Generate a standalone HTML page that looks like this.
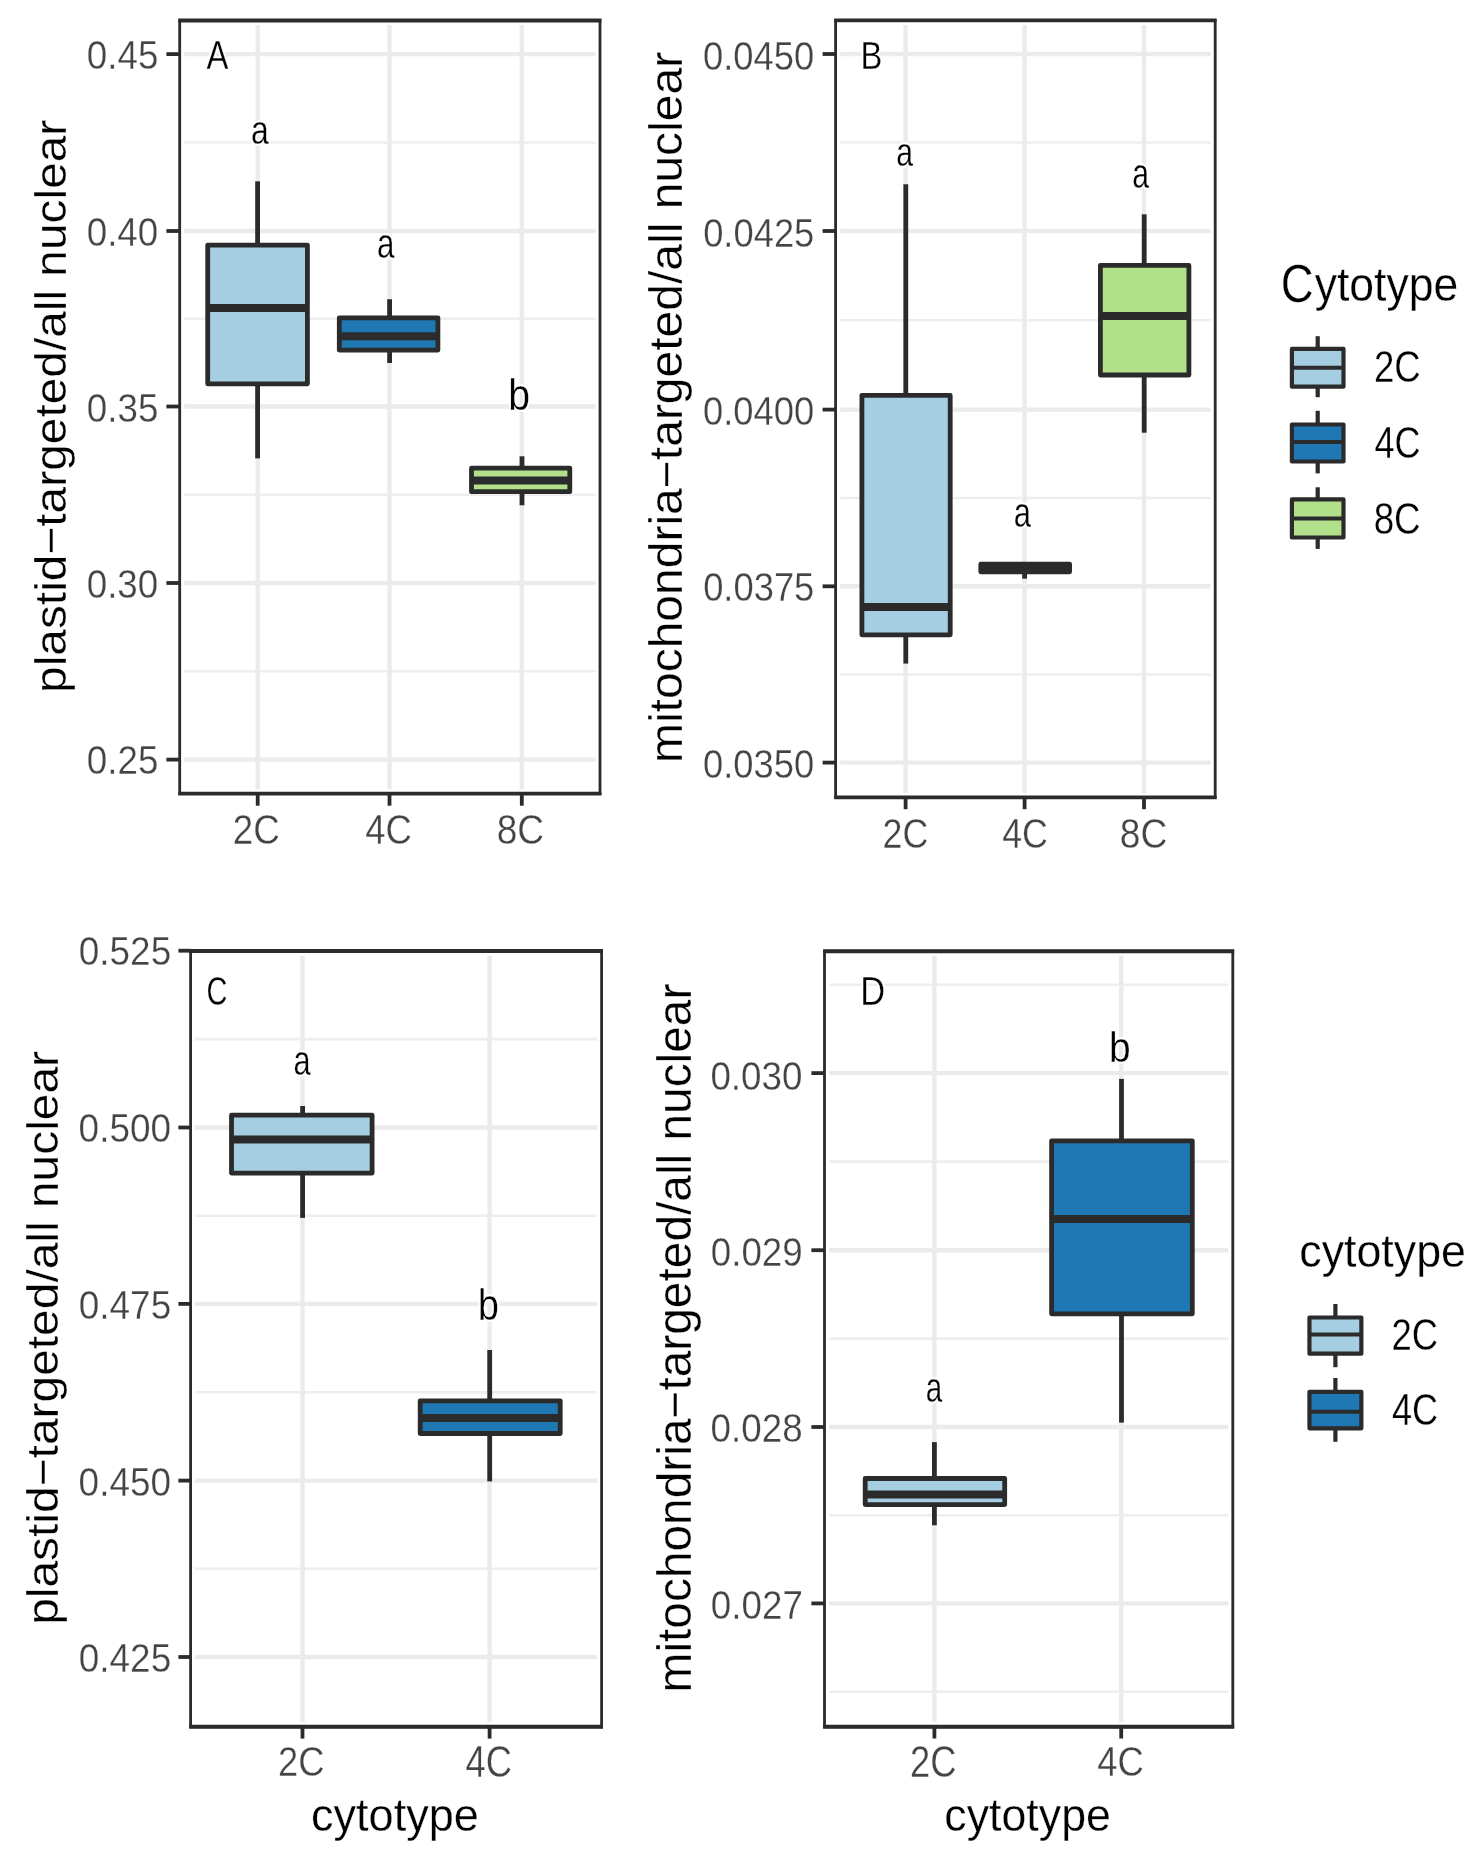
<!DOCTYPE html>
<html><head><meta charset="utf-8"><style>
html,body{margin:0;padding:0;background:#fff;}
body{width:1481px;height:1857px;overflow:hidden;}
svg{display:block;filter:blur(0.6px);}
text{font-family:"Liberation Sans",sans-serif;font-kerning:none;}
</style></head><body>
<svg width="1481" height="1857" viewBox="0 0 1481 1857">
<rect width="1481" height="1857" fill="#fff"/>
<rect x="179.7" y="20.5" width="420.3" height="773.1" fill="#fff"/>
<line x1="184.2" y1="142.55" x2="595.5" y2="142.55" stroke="#eeeeee" stroke-width="2.6"/>
<line x1="184.2" y1="318.75" x2="595.5" y2="318.75" stroke="#eeeeee" stroke-width="2.6"/>
<line x1="184.2" y1="494.75" x2="595.5" y2="494.75" stroke="#eeeeee" stroke-width="2.6"/>
<line x1="184.2" y1="671.3" x2="595.5" y2="671.3" stroke="#eeeeee" stroke-width="2.6"/>
<line x1="184.2" y1="54.1" x2="595.5" y2="54.1" stroke="#ebebeb" stroke-width="4.4"/>
<line x1="184.2" y1="231" x2="595.5" y2="231" stroke="#ebebeb" stroke-width="4.4"/>
<line x1="184.2" y1="406.5" x2="595.5" y2="406.5" stroke="#ebebeb" stroke-width="4.4"/>
<line x1="184.2" y1="583" x2="595.5" y2="583" stroke="#ebebeb" stroke-width="4.4"/>
<line x1="184.2" y1="759.6" x2="595.5" y2="759.6" stroke="#ebebeb" stroke-width="4.4"/>
<line x1="257.7" y1="25" x2="257.7" y2="789.1" stroke="#ebebeb" stroke-width="4.4"/>
<line x1="389.5" y1="25" x2="389.5" y2="789.1" stroke="#ebebeb" stroke-width="4.4"/>
<line x1="521.8" y1="25" x2="521.8" y2="789.1" stroke="#ebebeb" stroke-width="4.4"/>
<line x1="257.6" y1="181.3" x2="257.6" y2="245.1" stroke="#2b2b2b" stroke-width="4.8"/>
<line x1="257.6" y1="383.8" x2="257.6" y2="458.4" stroke="#2b2b2b" stroke-width="4.8"/>
<rect x="207.7" y="245.1" width="99.7" height="138.7" fill="#a6cee3" stroke="#2b2b2b" stroke-width="4.8" stroke-linejoin="round"/>
<line x1="207.7" y1="308.1" x2="307.4" y2="308.1" stroke="#2b2b2b" stroke-width="8"/>
<line x1="389.6" y1="299.2" x2="389.6" y2="317.8" stroke="#2b2b2b" stroke-width="4.8"/>
<line x1="389.6" y1="350.1" x2="389.6" y2="363" stroke="#2b2b2b" stroke-width="4.8"/>
<rect x="339.3" y="317.8" width="98.6" height="32.3" fill="#1f78b4" stroke="#2b2b2b" stroke-width="4.8" stroke-linejoin="round"/>
<line x1="339.3" y1="336.3" x2="437.9" y2="336.3" stroke="#2b2b2b" stroke-width="8"/>
<line x1="522" y1="456.3" x2="522" y2="468.2" stroke="#2b2b2b" stroke-width="4.8"/>
<line x1="522" y1="491.7" x2="522" y2="505.3" stroke="#2b2b2b" stroke-width="4.8"/>
<rect x="471.5" y="468.2" width="98.3" height="23.5" fill="#b2df8a" stroke="#2b2b2b" stroke-width="4.8" stroke-linejoin="round"/>
<line x1="471.5" y1="480.6" x2="569.8" y2="480.6" stroke="#2b2b2b" stroke-width="8"/>
<text transform="translate(206.59,69.15) scale(0.8049,1)" font-size="40.84" fill="#000" stroke="#fff" stroke-width="4" paint-order="stroke" stroke-linejoin="round">A</text>
<text transform="translate(206.59,69.15) scale(0.8049,1)" font-size="40.84" fill="none" stroke="#fff" stroke-width="0.3" stroke-linejoin="round">A</text>
<text transform="translate(250.99,143.95) scale(0.7705,1)" font-size="41.43" fill="#000" stroke="#fff" stroke-width="4" paint-order="stroke" stroke-linejoin="round">a</text>
<text transform="translate(250.99,143.95) scale(0.7705,1)" font-size="41.43" fill="none" stroke="#fff" stroke-width="0.3" stroke-linejoin="round">a</text>
<text transform="translate(377.02,258.03) scale(0.7307,1)" font-size="42.89" fill="#000" stroke="#fff" stroke-width="4" paint-order="stroke" stroke-linejoin="round">a</text>
<text transform="translate(377.02,258.03) scale(0.7307,1)" font-size="42.89" fill="none" stroke="#fff" stroke-width="0.3" stroke-linejoin="round">a</text>
<text transform="translate(508.23,409.82) scale(0.8789,1)" font-size="44.53" fill="#000" stroke="#fff" stroke-width="4" paint-order="stroke" stroke-linejoin="round">b</text>
<text transform="translate(508.23,409.82) scale(0.8789,1)" font-size="44.53" fill="none" stroke="#fff" stroke-width="0.3" stroke-linejoin="round">b</text>
<rect x="179.7" y="20.5" width="420.3" height="773.1" fill="none" stroke="#2b2b2b" stroke-width="2.8"/>
<line x1="178.3" y1="20.5" x2="601.4" y2="20.5" stroke="#2b2b2b" stroke-width="3.9"/>
<line x1="178.3" y1="793.6" x2="601.4" y2="793.6" stroke="#2b2b2b" stroke-width="3.9"/>
<line x1="166.4" y1="54.1" x2="179.7" y2="54.1" stroke="#2b2b2b" stroke-width="3.8"/>
<line x1="166.4" y1="231" x2="179.7" y2="231" stroke="#2b2b2b" stroke-width="3.8"/>
<line x1="166.4" y1="406.5" x2="179.7" y2="406.5" stroke="#2b2b2b" stroke-width="3.8"/>
<line x1="166.4" y1="583" x2="179.7" y2="583" stroke="#2b2b2b" stroke-width="3.8"/>
<line x1="166.4" y1="759.6" x2="179.7" y2="759.6" stroke="#2b2b2b" stroke-width="3.8"/>
<line x1="257.7" y1="793.6" x2="257.7" y2="805.7" stroke="#2b2b2b" stroke-width="3.8"/>
<line x1="389.5" y1="793.6" x2="389.5" y2="805.7" stroke="#2b2b2b" stroke-width="3.8"/>
<line x1="521.8" y1="793.6" x2="521.8" y2="805.7" stroke="#2b2b2b" stroke-width="3.8"/>
<text transform="translate(86.81,69) scale(0.9041,1)" font-size="40.68" fill="#444444" stroke="#fff" stroke-width="0.3" stroke-linejoin="round">0.45</text>
<text transform="translate(86.71,245.9) scale(0.9041,1)" font-size="40.68" fill="#444444" stroke="#fff" stroke-width="0.3" stroke-linejoin="round">0.40</text>
<text transform="translate(86.81,422) scale(0.9041,1)" font-size="40.68" fill="#444444" stroke="#fff" stroke-width="0.3" stroke-linejoin="round">0.35</text>
<text transform="translate(86.71,597.8) scale(0.9041,1)" font-size="40.68" fill="#444444" stroke="#fff" stroke-width="0.3" stroke-linejoin="round">0.30</text>
<text transform="translate(86.81,774) scale(0.9041,1)" font-size="40.68" fill="#444444" stroke="#fff" stroke-width="0.3" stroke-linejoin="round">0.25</text>
<text transform="translate(232.8,843.83) scale(0.8469,1)" font-size="43.36" fill="#444444" stroke="#fff" stroke-width="0.3" stroke-linejoin="round">2C</text>
<text transform="translate(365.31,843.64) scale(0.8589,1)" font-size="42.37" fill="#444444" stroke="#fff" stroke-width="0.3" stroke-linejoin="round">4C</text>
<text transform="translate(496.74,843.64) scale(0.8736,1)" font-size="42.37" fill="#444444" stroke="#fff" stroke-width="0.3" stroke-linejoin="round">8C</text>
<text transform="translate(66.35,692.93) rotate(-90) scale(1.0683,1)" font-size="44.8" fill="#000" stroke="#fff" stroke-width="0.3" stroke-linejoin="round">plastid−targeted/all nuclear</text>
<rect x="835.6" y="20.4" width="379.6" height="777" fill="#fff"/>
<line x1="840.1" y1="142.5" x2="1210.7" y2="142.5" stroke="#eeeeee" stroke-width="2.6"/>
<line x1="840.1" y1="320.3" x2="1210.7" y2="320.3" stroke="#eeeeee" stroke-width="2.6"/>
<line x1="840.1" y1="497.95" x2="1210.7" y2="497.95" stroke="#eeeeee" stroke-width="2.6"/>
<line x1="840.1" y1="674.45" x2="1210.7" y2="674.45" stroke="#eeeeee" stroke-width="2.6"/>
<line x1="840.1" y1="54" x2="1210.7" y2="54" stroke="#ebebeb" stroke-width="4.4"/>
<line x1="840.1" y1="231" x2="1210.7" y2="231" stroke="#ebebeb" stroke-width="4.4"/>
<line x1="840.1" y1="409.6" x2="1210.7" y2="409.6" stroke="#ebebeb" stroke-width="4.4"/>
<line x1="840.1" y1="586.3" x2="1210.7" y2="586.3" stroke="#ebebeb" stroke-width="4.4"/>
<line x1="840.1" y1="762.6" x2="1210.7" y2="762.6" stroke="#ebebeb" stroke-width="4.4"/>
<line x1="905.6" y1="24.9" x2="905.6" y2="792.9" stroke="#ebebeb" stroke-width="4.4"/>
<line x1="1024.6" y1="24.9" x2="1024.6" y2="792.9" stroke="#ebebeb" stroke-width="4.4"/>
<line x1="1144" y1="24.9" x2="1144" y2="792.9" stroke="#ebebeb" stroke-width="4.4"/>
<line x1="905.8" y1="184.3" x2="905.8" y2="395.3" stroke="#2b2b2b" stroke-width="4.8"/>
<line x1="905.8" y1="634.8" x2="905.8" y2="663.6" stroke="#2b2b2b" stroke-width="4.8"/>
<rect x="861.9" y="395.3" width="88.3" height="239.5" fill="#a6cee3" stroke="#2b2b2b" stroke-width="4.8" stroke-linejoin="round"/>
<line x1="861.9" y1="607" x2="950.2" y2="607" stroke="#2b2b2b" stroke-width="8"/>
<line x1="1024.6" y1="562" x2="1024.6" y2="564.2" stroke="#2b2b2b" stroke-width="4.8"/>
<line x1="1024.6" y1="571.8" x2="1024.6" y2="578.7" stroke="#2b2b2b" stroke-width="4.8"/>
<rect x="980.8" y="564.2" width="88.8" height="7.6" fill="#1f78b4" stroke="#2b2b2b" stroke-width="4.8" stroke-linejoin="round"/>
<line x1="980.8" y1="568" x2="1069.6" y2="568" stroke="#2b2b2b" stroke-width="8"/>
<line x1="1144.2" y1="214.3" x2="1144.2" y2="265.3" stroke="#2b2b2b" stroke-width="4.8"/>
<line x1="1144.2" y1="375" x2="1144.2" y2="432.7" stroke="#2b2b2b" stroke-width="4.8"/>
<rect x="1100.4" y="265.3" width="88.5" height="109.7" fill="#b2df8a" stroke="#2b2b2b" stroke-width="4.8" stroke-linejoin="round"/>
<line x1="1100.4" y1="316" x2="1188.9" y2="316" stroke="#2b2b2b" stroke-width="8"/>
<text transform="translate(860.47,69.45) scale(0.8239,1)" font-size="39.68" fill="#000" stroke="#fff" stroke-width="4" paint-order="stroke" stroke-linejoin="round">B</text>
<text transform="translate(860.47,69.45) scale(0.8239,1)" font-size="39.68" fill="none" stroke="#fff" stroke-width="0.3" stroke-linejoin="round">B</text>
<text transform="translate(896.17,165.85) scale(0.7315,1)" font-size="41.25" fill="#000" stroke="#fff" stroke-width="4" paint-order="stroke" stroke-linejoin="round">a</text>
<text transform="translate(896.17,165.85) scale(0.7315,1)" font-size="41.25" fill="none" stroke="#fff" stroke-width="0.3" stroke-linejoin="round">a</text>
<text transform="translate(1013.64,527.43) scale(0.7247,1)" font-size="42.71" fill="#000" stroke="#fff" stroke-width="4" paint-order="stroke" stroke-linejoin="round">a</text>
<text transform="translate(1013.64,527.43) scale(0.7247,1)" font-size="42.71" fill="none" stroke="#fff" stroke-width="0.3" stroke-linejoin="round">a</text>
<text transform="translate(1132.17,188.13) scale(0.6946,1)" font-size="43.44" fill="#000" stroke="#fff" stroke-width="4" paint-order="stroke" stroke-linejoin="round">a</text>
<text transform="translate(1132.17,188.13) scale(0.6946,1)" font-size="43.44" fill="none" stroke="#fff" stroke-width="0.3" stroke-linejoin="round">a</text>
<rect x="835.6" y="20.4" width="379.6" height="777" fill="none" stroke="#2b2b2b" stroke-width="2.8"/>
<line x1="834.2" y1="20.4" x2="1216.6" y2="20.4" stroke="#2b2b2b" stroke-width="3.9"/>
<line x1="834.2" y1="797.4" x2="1216.6" y2="797.4" stroke="#2b2b2b" stroke-width="3.9"/>
<line x1="822.6" y1="54" x2="835.6" y2="54" stroke="#2b2b2b" stroke-width="3.8"/>
<line x1="822.6" y1="231" x2="835.6" y2="231" stroke="#2b2b2b" stroke-width="3.8"/>
<line x1="822.6" y1="409.6" x2="835.6" y2="409.6" stroke="#2b2b2b" stroke-width="3.8"/>
<line x1="822.6" y1="586.3" x2="835.6" y2="586.3" stroke="#2b2b2b" stroke-width="3.8"/>
<line x1="822.6" y1="762.6" x2="835.6" y2="762.6" stroke="#2b2b2b" stroke-width="3.8"/>
<line x1="905.6" y1="797.4" x2="905.6" y2="809.2" stroke="#2b2b2b" stroke-width="3.8"/>
<line x1="1024.6" y1="797.4" x2="1024.6" y2="809.2" stroke="#2b2b2b" stroke-width="3.8"/>
<line x1="1144" y1="797.4" x2="1144" y2="809.2" stroke="#2b2b2b" stroke-width="3.8"/>
<text transform="translate(703.03,69.79) scale(0.8759,1)" font-size="41.52" fill="#444444" stroke="#fff" stroke-width="0.3" stroke-linejoin="round">0.0450</text>
<text transform="translate(703.14,246.99) scale(0.8759,1)" font-size="41.52" fill="#444444" stroke="#fff" stroke-width="0.3" stroke-linejoin="round">0.0425</text>
<text transform="translate(703.03,424.69) scale(0.8759,1)" font-size="41.52" fill="#444444" stroke="#fff" stroke-width="0.3" stroke-linejoin="round">0.0400</text>
<text transform="translate(703.14,601.49) scale(0.8759,1)" font-size="41.52" fill="#444444" stroke="#fff" stroke-width="0.3" stroke-linejoin="round">0.0375</text>
<text transform="translate(703.03,778.49) scale(0.8759,1)" font-size="41.52" fill="#444444" stroke="#fff" stroke-width="0.3" stroke-linejoin="round">0.0350</text>
<text transform="translate(882.55,847.73) scale(0.8346,1)" font-size="42.8" fill="#444444" stroke="#fff" stroke-width="0.3" stroke-linejoin="round">2C</text>
<text transform="translate(1002.13,847.63) scale(0.8350,1)" font-size="42.8" fill="#444444" stroke="#fff" stroke-width="0.3" stroke-linejoin="round">4C</text>
<text transform="translate(1119.84,847.63) scale(0.8669,1)" font-size="42.8" fill="#444444" stroke="#fff" stroke-width="0.3" stroke-linejoin="round">8C</text>
<text transform="translate(681.85,763.04) rotate(-90) scale(1.0458,1)" font-size="45.91" fill="#000" stroke="#fff" stroke-width="0.3" stroke-linejoin="round">mitochondria−targeted/all nuclear</text>
<text transform="translate(1280.64,301.62) scale(0.8363,1)" font-size="54.38" fill="#000" stroke="#fff" stroke-width="0.3" stroke-linejoin="round">C</text>
<text transform="translate(1314.64,300.99) scale(0.9419,1)" font-size="47.28" fill="#000" stroke="#fff" stroke-width="0.3" stroke-linejoin="round">ytotype</text>
<line x1="1317.7" y1="336.2" x2="1317.7" y2="348.9" stroke="#2b2b2b" stroke-width="4.2"/>
<line x1="1317.7" y1="386.7" x2="1317.7" y2="397.2" stroke="#2b2b2b" stroke-width="4.2"/>
<rect x="1291.9" y="348.9" width="51.6" height="37.8" fill="#a6cee3" stroke="#2b2b2b" stroke-width="4.2" stroke-linejoin="round"/>
<line x1="1291.9" y1="367.8" x2="1343.5" y2="367.8" stroke="#2b2b2b" stroke-width="4"/>
<line x1="1317.7" y1="410.8" x2="1317.7" y2="424.5" stroke="#2b2b2b" stroke-width="4.2"/>
<line x1="1317.7" y1="461.5" x2="1317.7" y2="473.4" stroke="#2b2b2b" stroke-width="4.2"/>
<rect x="1291.9" y="424.5" width="51.6" height="37" fill="#1f78b4" stroke="#2b2b2b" stroke-width="4.2" stroke-linejoin="round"/>
<line x1="1291.9" y1="442.1" x2="1343.5" y2="442.1" stroke="#2b2b2b" stroke-width="4"/>
<line x1="1317.7" y1="487.3" x2="1317.7" y2="499.4" stroke="#2b2b2b" stroke-width="4.2"/>
<line x1="1317.7" y1="537.5" x2="1317.7" y2="548.9" stroke="#2b2b2b" stroke-width="4.2"/>
<rect x="1291.9" y="499.4" width="51.6" height="38.1" fill="#b2df8a" stroke="#2b2b2b" stroke-width="4.2" stroke-linejoin="round"/>
<line x1="1291.9" y1="518.4" x2="1343.5" y2="518.4" stroke="#2b2b2b" stroke-width="4"/>
<text transform="translate(1373.91,382.22) scale(0.8269,1)" font-size="44.21" fill="#000" stroke="#fff" stroke-width="0.3" stroke-linejoin="round">2C</text>
<text transform="translate(1374.42,457.83) scale(0.8309,1)" font-size="43.5" fill="#000" stroke="#fff" stroke-width="0.3" stroke-linejoin="round">4C</text>
<text transform="translate(1373.65,533.83) scale(0.8451,1)" font-size="43.5" fill="#000" stroke="#fff" stroke-width="0.3" stroke-linejoin="round">8C</text>
<rect x="190.6" y="951" width="411" height="775.8" fill="#fff"/>
<line x1="195.1" y1="1039.1" x2="597.1" y2="1039.1" stroke="#eeeeee" stroke-width="2.6"/>
<line x1="195.1" y1="1215.7" x2="597.1" y2="1215.7" stroke="#eeeeee" stroke-width="2.6"/>
<line x1="195.1" y1="1392.25" x2="597.1" y2="1392.25" stroke="#eeeeee" stroke-width="2.6"/>
<line x1="195.1" y1="1568.8" x2="597.1" y2="1568.8" stroke="#eeeeee" stroke-width="2.6"/>
<line x1="195.1" y1="1127.5" x2="597.1" y2="1127.5" stroke="#ebebeb" stroke-width="4.4"/>
<line x1="195.1" y1="1303.9" x2="597.1" y2="1303.9" stroke="#ebebeb" stroke-width="4.4"/>
<line x1="195.1" y1="1480.6" x2="597.1" y2="1480.6" stroke="#ebebeb" stroke-width="4.4"/>
<line x1="195.1" y1="1657" x2="597.1" y2="1657" stroke="#ebebeb" stroke-width="4.4"/>
<line x1="302.5" y1="955.5" x2="302.5" y2="1722.3" stroke="#ebebeb" stroke-width="4.4"/>
<line x1="489.6" y1="955.5" x2="489.6" y2="1722.3" stroke="#ebebeb" stroke-width="4.4"/>
<line x1="302.6" y1="1106" x2="302.6" y2="1115.2" stroke="#2b2b2b" stroke-width="4.8"/>
<line x1="302.6" y1="1173.1" x2="302.6" y2="1217.9" stroke="#2b2b2b" stroke-width="4.8"/>
<rect x="231.5" y="1115.2" width="140.6" height="57.9" fill="#a6cee3" stroke="#2b2b2b" stroke-width="4.8" stroke-linejoin="round"/>
<line x1="231.5" y1="1139.6" x2="372.1" y2="1139.6" stroke="#2b2b2b" stroke-width="8"/>
<line x1="489.7" y1="1350" x2="489.7" y2="1400.8" stroke="#2b2b2b" stroke-width="4.8"/>
<line x1="489.7" y1="1433.5" x2="489.7" y2="1481.4" stroke="#2b2b2b" stroke-width="4.8"/>
<rect x="420.2" y="1400.8" width="140" height="32.7" fill="#1f78b4" stroke="#2b2b2b" stroke-width="4.8" stroke-linejoin="round"/>
<line x1="420.2" y1="1418" x2="560.2" y2="1418" stroke="#2b2b2b" stroke-width="8"/>
<text transform="translate(206.58,1004.85) scale(0.7128,1)" font-size="40.54" fill="#000" stroke="#fff" stroke-width="4" paint-order="stroke" stroke-linejoin="round">C</text>
<text transform="translate(206.58,1004.85) scale(0.7128,1)" font-size="40.54" fill="none" stroke="#fff" stroke-width="0.3" stroke-linejoin="round">C</text>
<text transform="translate(293.44,1074.54) scale(0.7359,1)" font-size="41.8" fill="#000" stroke="#fff" stroke-width="4" paint-order="stroke" stroke-linejoin="round">a</text>
<text transform="translate(293.44,1074.54) scale(0.7359,1)" font-size="41.8" fill="none" stroke="#fff" stroke-width="0.3" stroke-linejoin="round">a</text>
<text transform="translate(477.93,1319.72) scale(0.8597,1)" font-size="43.71" fill="#000" stroke="#fff" stroke-width="4" paint-order="stroke" stroke-linejoin="round">b</text>
<text transform="translate(477.93,1319.72) scale(0.8597,1)" font-size="43.71" fill="none" stroke="#fff" stroke-width="0.3" stroke-linejoin="round">b</text>
<rect x="190.6" y="951" width="411" height="775.8" fill="none" stroke="#2b2b2b" stroke-width="2.8"/>
<line x1="189.2" y1="951" x2="603" y2="951" stroke="#2b2b2b" stroke-width="3.9"/>
<line x1="189.2" y1="1726.8" x2="603" y2="1726.8" stroke="#2b2b2b" stroke-width="3.9"/>
<line x1="178.4" y1="950.7" x2="190.6" y2="950.7" stroke="#2b2b2b" stroke-width="3.8"/>
<line x1="178.4" y1="1127.5" x2="190.6" y2="1127.5" stroke="#2b2b2b" stroke-width="3.8"/>
<line x1="178.4" y1="1303.9" x2="190.6" y2="1303.9" stroke="#2b2b2b" stroke-width="3.8"/>
<line x1="178.4" y1="1480.6" x2="190.6" y2="1480.6" stroke="#2b2b2b" stroke-width="3.8"/>
<line x1="178.4" y1="1657" x2="190.6" y2="1657" stroke="#2b2b2b" stroke-width="3.8"/>
<line x1="302.5" y1="1726.8" x2="302.5" y2="1738.6" stroke="#2b2b2b" stroke-width="3.8"/>
<line x1="489.6" y1="1726.8" x2="489.6" y2="1738.6" stroke="#2b2b2b" stroke-width="3.8"/>
<text transform="translate(78.71,964.95) scale(0.8993,1)" font-size="41.1" fill="#444444" stroke="#fff" stroke-width="0.3" stroke-linejoin="round">0.525</text>
<text transform="translate(78.6,1142.05) scale(0.8993,1)" font-size="41.1" fill="#444444" stroke="#fff" stroke-width="0.3" stroke-linejoin="round">0.500</text>
<text transform="translate(78.71,1318.55) scale(0.8993,1)" font-size="41.1" fill="#444444" stroke="#fff" stroke-width="0.3" stroke-linejoin="round">0.475</text>
<text transform="translate(78.6,1496.15) scale(0.8993,1)" font-size="41.1" fill="#444444" stroke="#fff" stroke-width="0.3" stroke-linejoin="round">0.450</text>
<text transform="translate(78.71,1672.15) scale(0.8993,1)" font-size="41.1" fill="#444444" stroke="#fff" stroke-width="0.3" stroke-linejoin="round">0.425</text>
<text transform="translate(278.12,1776.14) scale(0.8713,1)" font-size="41.67" fill="#444444" stroke="#fff" stroke-width="0.3" stroke-linejoin="round">2C</text>
<text transform="translate(465.41,1776.72) scale(0.8339,1)" font-size="43.64" fill="#444444" stroke="#fff" stroke-width="0.3" stroke-linejoin="round">4C</text>
<text transform="translate(57.95,1624.84) rotate(-90) scale(1.0694,1)" font-size="44.8" fill="#000" stroke="#fff" stroke-width="0.3" stroke-linejoin="round">plastid−targeted/all nuclear</text>
<text transform="translate(311.04,1830.99) scale(0.9643,1)" font-size="46.73" fill="#000" stroke="#fff" stroke-width="0.3" stroke-linejoin="round">cytotype</text>
<rect x="824.5" y="951.2" width="408.3" height="775.6" fill="#fff"/>
<line x1="829" y1="984.7" x2="1228.3" y2="984.7" stroke="#eeeeee" stroke-width="2.6"/>
<line x1="829" y1="1161.65" x2="1228.3" y2="1161.65" stroke="#eeeeee" stroke-width="2.6"/>
<line x1="829" y1="1338.6" x2="1228.3" y2="1338.6" stroke="#eeeeee" stroke-width="2.6"/>
<line x1="829" y1="1515.2" x2="1228.3" y2="1515.2" stroke="#eeeeee" stroke-width="2.6"/>
<line x1="829" y1="1691.7" x2="1228.3" y2="1691.7" stroke="#eeeeee" stroke-width="2.6"/>
<line x1="829" y1="1073.1" x2="1228.3" y2="1073.1" stroke="#ebebeb" stroke-width="4.4"/>
<line x1="829" y1="1250.2" x2="1228.3" y2="1250.2" stroke="#ebebeb" stroke-width="4.4"/>
<line x1="829" y1="1427" x2="1228.3" y2="1427" stroke="#ebebeb" stroke-width="4.4"/>
<line x1="829" y1="1603.4" x2="1228.3" y2="1603.4" stroke="#ebebeb" stroke-width="4.4"/>
<line x1="934.4" y1="955.7" x2="934.4" y2="1722.3" stroke="#ebebeb" stroke-width="4.4"/>
<line x1="1121.2" y1="955.7" x2="1121.2" y2="1722.3" stroke="#ebebeb" stroke-width="4.4"/>
<line x1="934.4" y1="1442.1" x2="934.4" y2="1478.5" stroke="#2b2b2b" stroke-width="4.8"/>
<line x1="934.4" y1="1504.6" x2="934.4" y2="1525.3" stroke="#2b2b2b" stroke-width="4.8"/>
<rect x="865.2" y="1478.5" width="139.5" height="26.1" fill="#a6cee3" stroke="#2b2b2b" stroke-width="4.8" stroke-linejoin="round"/>
<line x1="865.2" y1="1494.6" x2="1004.7" y2="1494.6" stroke="#2b2b2b" stroke-width="8"/>
<line x1="1121.5" y1="1078.9" x2="1121.5" y2="1140.8" stroke="#2b2b2b" stroke-width="4.8"/>
<line x1="1121.5" y1="1313.8" x2="1121.5" y2="1422.6" stroke="#2b2b2b" stroke-width="4.8"/>
<rect x="1051.6" y="1140.8" width="140.7" height="173" fill="#1f78b4" stroke="#2b2b2b" stroke-width="4.8" stroke-linejoin="round"/>
<line x1="1051.6" y1="1219" x2="1192.3" y2="1219" stroke="#2b2b2b" stroke-width="8"/>
<text transform="translate(860.32,1005.45) scale(0.8285,1)" font-size="41.57" fill="#000" stroke="#fff" stroke-width="4" paint-order="stroke" stroke-linejoin="round">D</text>
<text transform="translate(860.32,1005.45) scale(0.8285,1)" font-size="41.57" fill="none" stroke="#fff" stroke-width="0.3" stroke-linejoin="round">D</text>
<text transform="translate(925.79,1402.04) scale(0.7079,1)" font-size="41.8" fill="#000" stroke="#fff" stroke-width="4" paint-order="stroke" stroke-linejoin="round">a</text>
<text transform="translate(925.79,1402.04) scale(0.7079,1)" font-size="41.8" fill="none" stroke="#fff" stroke-width="0.3" stroke-linejoin="round">a</text>
<text transform="translate(1108.94,1062.24) scale(0.9278,1)" font-size="41.94" fill="#000" stroke="#fff" stroke-width="4" paint-order="stroke" stroke-linejoin="round">b</text>
<text transform="translate(1108.94,1062.24) scale(0.9278,1)" font-size="41.94" fill="none" stroke="#fff" stroke-width="0.3" stroke-linejoin="round">b</text>
<rect x="824.5" y="951.2" width="408.3" height="775.6" fill="none" stroke="#2b2b2b" stroke-width="2.8"/>
<line x1="823.1" y1="951.2" x2="1234.2" y2="951.2" stroke="#2b2b2b" stroke-width="3.9"/>
<line x1="823.1" y1="1726.8" x2="1234.2" y2="1726.8" stroke="#2b2b2b" stroke-width="3.9"/>
<line x1="811.4" y1="1073.1" x2="824.5" y2="1073.1" stroke="#2b2b2b" stroke-width="3.8"/>
<line x1="811.4" y1="1250.2" x2="824.5" y2="1250.2" stroke="#2b2b2b" stroke-width="3.8"/>
<line x1="811.4" y1="1427" x2="824.5" y2="1427" stroke="#2b2b2b" stroke-width="3.8"/>
<line x1="811.4" y1="1603.4" x2="824.5" y2="1603.4" stroke="#2b2b2b" stroke-width="3.8"/>
<line x1="934.4" y1="1726.8" x2="934.4" y2="1738.5" stroke="#2b2b2b" stroke-width="3.8"/>
<line x1="1121.2" y1="1726.8" x2="1121.2" y2="1738.5" stroke="#2b2b2b" stroke-width="3.8"/>
<text transform="translate(710.4,1089.99) scale(0.8862,1)" font-size="41.52" fill="#444444" stroke="#fff" stroke-width="0.3" stroke-linejoin="round">0.030</text>
<text transform="translate(710.7,1265.59) scale(0.8862,1)" font-size="41.52" fill="#444444" stroke="#fff" stroke-width="0.3" stroke-linejoin="round">0.029</text>
<text transform="translate(710.56,1441.99) scale(0.8862,1)" font-size="41.52" fill="#444444" stroke="#fff" stroke-width="0.3" stroke-linejoin="round">0.028</text>
<text transform="translate(710.81,1618.79) scale(0.8862,1)" font-size="41.52" fill="#444444" stroke="#fff" stroke-width="0.3" stroke-linejoin="round">0.027</text>
<text transform="translate(910.02,1776.82) scale(0.8160,1)" font-size="44.49" fill="#444444" stroke="#fff" stroke-width="0.3" stroke-linejoin="round">2C</text>
<text transform="translate(1097.21,1775.93) scale(0.8560,1)" font-size="42.51" fill="#444444" stroke="#fff" stroke-width="0.3" stroke-linejoin="round">4C</text>
<text transform="translate(690.95,1692.43) rotate(-90) scale(1.0020,1)" font-size="47.77" fill="#000" stroke="#fff" stroke-width="0.3" stroke-linejoin="round">mitochondria−targeted/all nuclear</text>
<text transform="translate(944.35,1831.19) scale(0.9610,1)" font-size="46.55" fill="#000" stroke="#fff" stroke-width="0.3" stroke-linejoin="round">cytotype</text>
<text transform="translate(1299.25,1267.4) scale(0.9653,1)" font-size="46.37" fill="#000" stroke="#fff" stroke-width="0.3" stroke-linejoin="round">cytotype</text>
<line x1="1335.4" y1="1304" x2="1335.4" y2="1317.5" stroke="#2b2b2b" stroke-width="4.2"/>
<line x1="1335.4" y1="1353.7" x2="1335.4" y2="1367.2" stroke="#2b2b2b" stroke-width="4.2"/>
<rect x="1309.45" y="1317.5" width="51.9" height="36.2" fill="#a6cee3" stroke="#2b2b2b" stroke-width="4.2" stroke-linejoin="round"/>
<line x1="1309.45" y1="1334.6" x2="1361.35" y2="1334.6" stroke="#2b2b2b" stroke-width="4"/>
<line x1="1335.4" y1="1378" x2="1335.4" y2="1391.8" stroke="#2b2b2b" stroke-width="4.2"/>
<line x1="1335.4" y1="1428.3" x2="1335.4" y2="1441.8" stroke="#2b2b2b" stroke-width="4.2"/>
<rect x="1309.45" y="1391.8" width="51.9" height="36.5" fill="#1f78b4" stroke="#2b2b2b" stroke-width="4.2" stroke-linejoin="round"/>
<line x1="1309.45" y1="1411.8" x2="1361.35" y2="1411.8" stroke="#2b2b2b" stroke-width="4"/>
<text transform="translate(1391.52,1350.13) scale(0.8384,1)" font-size="43.5" fill="#000" stroke="#fff" stroke-width="0.3" stroke-linejoin="round">2C</text>
<text transform="translate(1391.92,1424.63) scale(0.8309,1)" font-size="43.5" fill="#000" stroke="#fff" stroke-width="0.3" stroke-linejoin="round">4C</text>
</svg>
</body></html>
